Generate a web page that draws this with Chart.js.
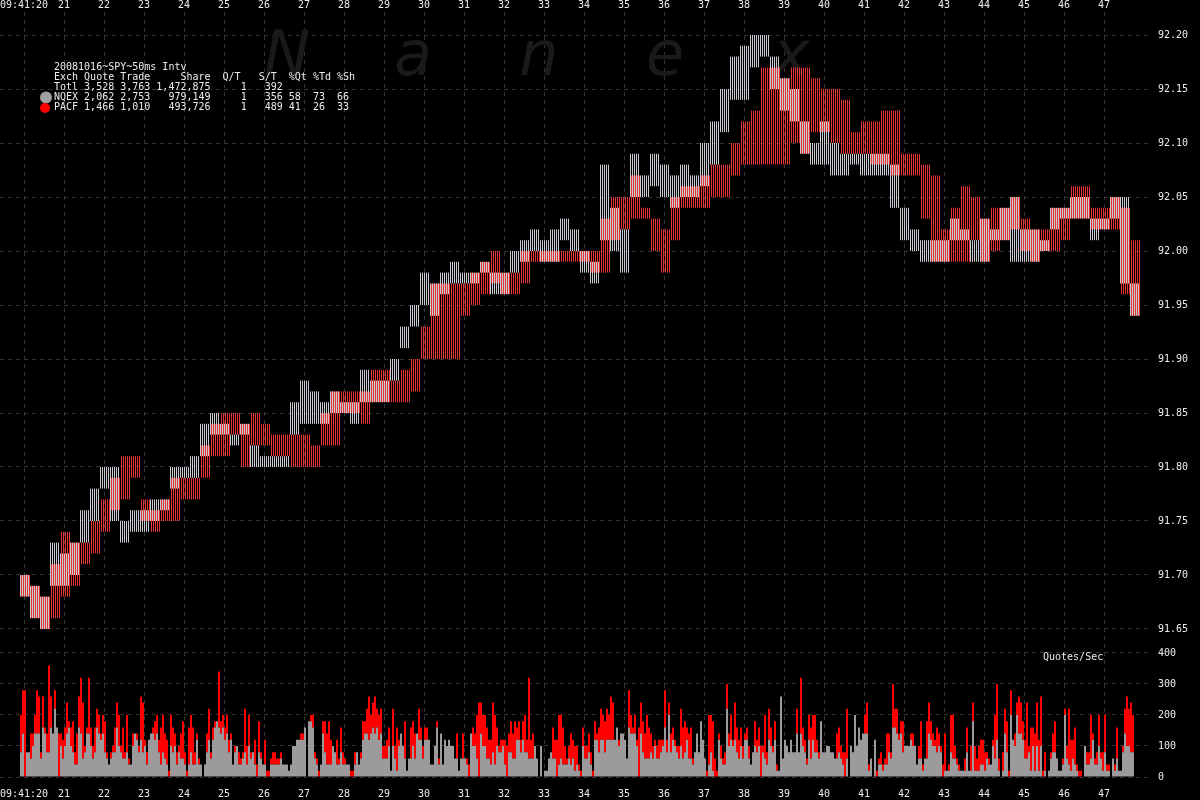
<!DOCTYPE html>
<html>
<head>
<meta charset="utf-8">
<title>SPY quotes 2008-10-16</title>
<script src="https://cdn.jsdelivr.net/npm/chart.js@4/dist/chart.umd.min.js"></script>
<style>
  html, body { margin: 0; padding: 0; background: #000; overflow: hidden; }
  canvas { display: block; }
</style>
</head>
<body>
<canvas id="chart" width="1200" height="800"></canvas>
<script>
"use strict";

// x axis: seconds after 09:41:00
const secondTicks = [20, 21, 22, 23, 24, 25, 26, 27, 28, 29, 30, 31, 32, 33, 34, 35, 36, 37, 38, 39, 40, 41, 42, 43, 44, 45, 46, 47];
const priceTicks = [91.65, 91.70, 91.75, 91.80, 91.85, 91.90, 91.95, 92.00, 92.05, 92.10, 92.15, 92.20];
const rateTicks = [0, 100, 200, 300, 400];

// price bins: quarter second each, starting 09:41:19.9
const priceStart = 19.9;
const priceStep = 0.25;
const nqexLow = [91.68, 91.66, 91.65, 91.69, 91.69, 91.70, 91.73, 91.75, 91.78, 91.75,
  91.73, 91.74, 91.74, 91.75, 91.76, 91.78, 91.79, 91.79, 91.81, 91.83,
  91.83, 91.82, 91.83, 91.80, 91.80, 91.80, 91.80, 91.83, 91.84, 91.84,
  91.84, 91.85, 91.85, 91.84, 91.86, 91.86, 91.86, 91.88, 91.91, 91.93,
  91.95, 91.94, 91.96, 91.97, 91.97, 91.97, 91.98, 91.96, 91.96, 91.98,
  91.99, 92.00, 91.99, 91.99, 92.01, 92.00, 91.98, 91.97, 92.01, 92.00,
  91.98, 92.05, 92.05, 92.06, 92.05, 92.04, 92.05, 92.05, 92.06, 92.08,
  92.11, 92.14, 92.14, 92.17, 92.18, 92.15, 92.13, 92.12, 92.09, 92.08,
  92.08, 92.07, 92.07, 92.08, 92.07, 92.07, 92.07, 92.04, 92.01, 92.00,
  91.99, 91.99, 91.99, 92.01, 92.01, 91.99, 91.99, 92.01, 92.01, 91.99,
  91.99, 91.99, 92.00, 92.02, 92.03, 92.03, 92.03, 92.01, 92.02, 92.03,
  91.97, 91.94];
const nqexHigh = [91.70, 91.69, 91.68, 91.73, 91.72, 91.73, 91.76, 91.78, 91.80, 91.80,
  91.75, 91.76, 91.76, 91.77, 91.77, 91.80, 91.80, 91.81, 91.84, 91.85,
  91.84, 91.83, 91.84, 91.82, 91.81, 91.81, 91.81, 91.86, 91.88, 91.87,
  91.86, 91.87, 91.86, 91.86, 91.89, 91.88, 91.88, 91.90, 91.93, 91.95,
  91.98, 91.97, 91.98, 91.99, 91.98, 91.98, 91.99, 91.98, 91.98, 92.00,
  92.01, 92.02, 92.01, 92.02, 92.03, 92.02, 92.00, 91.99, 92.08, 92.04,
  92.02, 92.09, 92.07, 92.09, 92.08, 92.07, 92.08, 92.07, 92.10, 92.12,
  92.15, 92.18, 92.19, 92.20, 92.20, 92.18, 92.16, 92.15, 92.12, 92.10,
  92.12, 92.10, 92.09, 92.09, 92.09, 92.09, 92.09, 92.08, 92.04, 92.02,
  92.01, 92.01, 92.01, 92.03, 92.02, 92.01, 92.03, 92.02, 92.04, 92.05,
  92.02, 92.02, 92.01, 92.04, 92.04, 92.05, 92.05, 92.03, 92.03, 92.05,
  92.05, 91.97];
const pacfLow = [91.68, 91.66, 91.65, 91.66, 91.68, 91.69, 91.71, 91.72, 91.74, 91.76,
  91.77, 91.79, 91.75, 91.74, 91.75, 91.75, 91.77, 91.77, 91.79, 91.81,
  91.81, 91.83, 91.80, 91.82, 91.82, 91.81, 91.81, 91.80, 91.80, 91.80,
  91.82, 91.82, 91.85, 91.85, 91.84, 91.86, 91.86, 91.86, 91.86, 91.87,
  91.90, 91.90, 91.90, 91.90, 91.94, 91.95, 91.96, 91.97, 91.96, 91.96,
  91.97, 91.99, 91.99, 91.99, 91.99, 91.99, 91.99, 91.98, 91.98, 92.01,
  92.02, 92.03, 92.03, 92.00, 91.98, 92.01, 92.04, 92.04, 92.04, 92.05,
  92.05, 92.07, 92.08, 92.08, 92.08, 92.08, 92.08, 92.10, 92.09, 92.11,
  92.11, 92.10, 92.09, 92.09, 92.09, 92.08, 92.08, 92.07, 92.07, 92.07,
  92.03, 91.99, 91.99, 91.99, 91.99, 92.01, 91.99, 92.00, 92.01, 92.02,
  92.00, 91.99, 92.00, 92.00, 92.01, 92.03, 92.03, 92.02, 92.02, 92.02,
  91.96, 91.94];
const pacfHigh = [91.70, 91.69, 91.68, 91.71, 91.74, 91.73, 91.73, 91.75, 91.77, 91.79,
  91.81, 91.81, 91.77, 91.76, 91.77, 91.79, 91.79, 91.79, 91.82, 91.84,
  91.85, 91.85, 91.84, 91.85, 91.84, 91.83, 91.83, 91.83, 91.83, 91.82,
  91.85, 91.87, 91.87, 91.87, 91.87, 91.89, 91.89, 91.88, 91.89, 91.90,
  91.93, 91.97, 91.97, 91.97, 91.97, 91.98, 91.99, 92.00, 91.98, 91.98,
  92.00, 92.00, 92.00, 92.00, 92.00, 92.00, 92.00, 92.00, 92.03, 92.05,
  92.05, 92.07, 92.04, 92.03, 92.02, 92.05, 92.06, 92.06, 92.07, 92.08,
  92.08, 92.10, 92.12, 92.13, 92.17, 92.17, 92.16, 92.17, 92.17, 92.16,
  92.15, 92.15, 92.14, 92.11, 92.12, 92.12, 92.13, 92.13, 92.09, 92.09,
  92.08, 92.07, 92.02, 92.04, 92.06, 92.05, 92.03, 92.04, 92.04, 92.05,
  92.03, 92.02, 92.02, 92.04, 92.04, 92.06, 92.06, 92.04, 92.04, 92.05,
  92.04, 92.01];

// quote rate bins: 50 ms each, quotes/sec
const rateStart = 19.9;
const rateStep = 0.05;
const nqexRate = [
  80,140,0,80,80,60,100,140,140,140, 60,160,140,80,80,160,140,220,160,0,
  100,60,100,140,160,100,80,40,40,160, 140,60,80,140,140,100,60,80,160,140,
  120,140,80,60,40,60,80,80,160,100, 80,60,60,80,40,40,100,140,120,80,
  120,80,100,40,120,140,140,120,140,80, 40,80,60,40,0,100,80,100,40,80,
  60,60,40,0,40,80,40,40,120,40, 40,0,40,80,120,60,120,160,180,160,
  140,160,120,140,80,120,40,80,100,40, 40,60,80,40,100,60,80,40,0,80,
  60,40,40,0,0,40,40,40,40,40, 60,40,40,40,20,40,100,100,120,120,
  120,120,160,0,180,180,160,60,40,0, 40,140,80,40,40,40,100,80,40,40,
  80,40,40,40,40,0,0,40,80,40, 60,120,140,140,120,140,160,140,160,120,
  140,60,60,60,100,20,100,60,20,100, 140,100,60,20,60,60,100,60,140,120,
  120,60,120,120,120,40,40,100,160,40, 140,40,120,100,120,100,100,60,60,20,
  60,60,60,40,0,140,100,100,60,0, 140,100,100,60,60,40,80,40,100,80,
  80,100,40,0,80,80,60,60,120,120, 80,120,80,80,60,60,60,100,60,0,
  100,0,20,20,60,80,60,60,0,40, 60,40,40,40,60,40,60,20,40,20,
  0,100,60,60,80,40,0,120,120,80, 120,120,80,120,120,120,120,120,160,100,
  140,140,120,60,160,140,140,140,100,0, 140,80,60,60,60,80,60,100,60,60,
  80,100,160,80,200,80,120,100,80,60, 100,60,80,120,60,60,40,80,140,80,
  180,120,60,0,40,80,20,0,0,120, 60,40,40,220,100,120,100,120,80,60,
  100,60,120,120,60,40,80,100,80,100, 0,80,60,40,120,100,80,120,20,20,
  260,60,120,100,80,120,80,80,140,80, 140,100,80,40,120,60,120,80,80,60,
  180,80,80,100,100,80,80,60,60,80, 60,40,0,60,0,100,80,200,100,160,
  120,140,140,140,20,60,0,120,0,40, 40,20,40,40,80,60,160,160,140,120,
  140,80,100,100,100,120,100,100,40,60, 60,20,60,60,140,120,100,100,80,100,
  80,0,20,20,20,80,60,60,40,20, 20,20,20,80,20,20,180,20,20,20,
  40,40,20,60,40,40,100,60,120,20, 0,20,140,80,0,200,120,100,200,140,
  140,120,60,60,80,20,100,20,100,20, 100,0,20,0,20,60,80,80,60,20,
  20,40,200,60,40,20,60,40,20,0, 0,0,100,40,40,60,120,40,40,100,
  60,20,80,20,20,0,60,20,60,20, 20,80,140,100,100,80,80];
const pacfRate = [
  120,140,280,0,0,80,40,60,140,120, 20,100,20,60,280,100,0,60,0,140,
  40,60,60,100,20,60,100,40,100,100, 180,180,20,20,180,60,40,80,60,60,
  20,60,100,20,0,20,20,80,80,100, 20,100,20,120,20,0,40,0,20,20,
  140,160,20,40,0,0,20,60,60,40, 120,120,80,80,20,100,80,40,40,20,
  80,120,40,20,120,120,120,40,20,20, 0,0,0,60,100,20,40,20,0,180,
  40,40,40,60,40,20,0,20,0,40, 20,20,140,60,100,20,0,80,40,100,
  20,0,80,20,20,20,40,40,20,20, 20,0,0,0,0,0,0,0,0,0,
  20,20,0,0,0,20,40,20,20,20, 0,40,100,100,140,80,0,0,80,20,
  80,40,20,0,0,20,20,40,0,0, 20,60,40,80,140,60,80,120,60,80,
  80,40,40,60,60,0,120,40,140,20, 0,0,120,0,0,100,80,80,0,100,
  40,40,40,40,0,0,0,0,20,20, 0,0,0,0,0,0,0,0,80,0,
  0,80,0,20,40,0,60,40,140,240, 100,100,100,100,60,80,160,160,60,20,
  40,20,80,100,60,100,80,120,40,60, 40,60,120,40,260,60,80,0,0,0,
  0,0,0,0,0,0,100,60,120,160, 140,120,60,20,40,100,60,80,60,20,
  20,60,40,40,60,40,20,60,20,80, 100,80,100,100,80,140,120,0,0,20,
  0,0,0,0,120,60,20,60,20,160, 100,100,80,140,100,60,40,20,40,60,
  40,20,120,40,40,60,40,20,20,40, 120,100,100,40,80,100,20,0,0,0,
  0,0,0,20,160,120,160,60,20,20, 40,20,40,80,40,80,20,120,80,60,
  60,40,20,40,40,0,0,80,40,60, 100,20,140,40,100,60,20,60,20,0,
  0,0,0,0,0,0,0,0,80,0, 180,60,40,20,80,100,80,120,40,20,
  0,0,0,0,0,0,0,0,80,80, 40,40,80,160,0,0,0,0,0,0,
  0,0,60,100,20,0,0,0,20,20, 40,20,20,100,60,20,140,60,80,20,
  40,100,0,0,0,20,40,0,0,40, 120,20,0,120,100,60,40,20,80,40,
  20,40,120,0,20,120,140,40,20,20, 0,0,40,80,0,80,60,80,40,80,
  80,80,60,20,20,0,20,140,180,40, 0,60,80,100,20,80,0,40,40,120,
  100,60,60,180,20,140,60,120,140,100, 160,20,60,0,0,20,60,100,0,0,
  0,20,20,40,180,100,60,120,20,20, 20,0,0,40,40,140,20,20,40,100,
  20,60,120,20,20,0,0,20,100,0, 0,20,80,160,120,160,120];

// summary block, top left
const summaryTitle = "20081016~SPY~50ms Intv";
const summaryRows = [
  "Exch Quote Trade     Share  Q/T   S/T  %Qt %Td %Sh",
  "Totl 3,528 3,763 1,472,875     1   392",
  "NQEX 2,062 2,753   979,149     1   356 58  73  66",
  "PACF 1,466 1,010   493,726     1   489 41  26  33"
];
const watermark = ["N", "a", "n", "e", "x"];

const monoFont = { family: "'DejaVu Sans Mono', monospace", size: 10 };
const gridColor = "#343434";
const textColor = "#ececec";

const canvas = document.getElementById("chart");
const ctx = canvas.getContext("2d");

// 1px stripes every 2px, the two exchanges interleave
const stripes = (color, phase) => {
  const tile = document.createElement("canvas");
  tile.width = 2;
  tile.height = 1;
  const t = tile.getContext("2d");
  t.fillStyle = color;
  t.fillRect(phase, 0, 1, 1);
  return ctx.createPattern(tile, "repeat");
};

const binTime = (start, step, i) => start + step * (i + 0.5);
const nqexBars = nqexLow.map((lo, k) => ({ x: binTime(priceStart, priceStep, k), y: [lo, nqexHigh[k]] }));
const pacfBars = pacfLow.map((lo, k) => ({ x: binTime(priceStart, priceStep, k), y: [lo, pacfHigh[k]] }));
const nqexRateBars = nqexRate.map((v, i) => ({ x: binTime(rateStart, rateStep, i), y: v }));
const pacfRateBars = pacfRate.map((v, i) => ({ x: binTime(rateStart, rateStep, i), y: v }));

const overlay = {
  id: "overlay",
  afterLayout(chart) {
    // the rate axis shares the price axis column; widen its label box so labels are not clipped
    const s = chart.scales.yv;
    s.right = s.left + 50;
    s.width = 50;
  },
  beforeDatasetsDraw(chart) {
    const c = chart.ctx;
    c.save();
    c.fillStyle = "#1a1a1a";
    c.font = "italic 62px 'DejaVu Sans'";
    c.textAlign = "center";
    c.textBaseline = "alphabetic";
    watermark.forEach((ch, i) => c.fillText(ch, 287 + i * 126, 75));
    c.restore();
  },
  afterDraw(chart) {
    const c = chart.ctx;
    c.save();
    c.font = "10px 'DejaVu Sans Mono'";
    c.textAlign = "left";
    c.textBaseline = "middle";
    c.fillStyle = textColor;
    c.fillText(summaryTitle, 54, 67);
    summaryRows.forEach((row, i) => c.fillText(row, 54, 77.5 + i * 10.1));
    c.fillText("Quotes/Sec", 1043, 657);
    // exchange markers
    c.fillStyle = "#a0a0a0";
    c.beginPath(); c.arc(46, 97.5, 6, 0, Math.PI * 2); c.fill();
    c.fillStyle = "#ff0000";
    c.beginPath(); c.arc(45, 108, 5, 0, Math.PI * 2); c.fill();
    c.restore();
  }
};

const xTicks = (padding) => ({
  color: textColor,
  font: monoFont,
  padding: padding,
  autoSkip: false,
  maxRotation: 0,
  callback: (v) => (v === 20 ? "09:41:20" : String(v))
});

new Chart(ctx, {
  type: "bar",
  data: {
    datasets: [
      { label: "NQEX", data: nqexBars, xAxisID: "x", yAxisID: "y", backgroundColor: stripes("#c8ccd2", 0),
        barThickness: 10, grouped: false, borderWidth: 0, inflateAmount: 0 },
      { label: "PACF", data: pacfBars, xAxisID: "x", yAxisID: "y", backgroundColor: stripes("#e43434", 1),
        barThickness: 10, grouped: false, borderWidth: 0, inflateAmount: 0 },
      { label: "NQEX Quotes/Sec", data: nqexRateBars, xAxisID: "x", yAxisID: "yv", stack: "rate",
        backgroundColor: "#9c9a9c", barThickness: 2, grouped: false, borderWidth: 0, inflateAmount: 0 },
      { label: "PACF Quotes/Sec", data: pacfRateBars, xAxisID: "x", yAxisID: "yv", stack: "rate",
        backgroundColor: "#ff0000", barThickness: 2, grouped: false, borderWidth: 0, inflateAmount: 0 }
    ]
  },
  options: {
    responsive: false,
    animation: false,
    events: [],
    layout: { padding: 0 },
    plugins: { legend: { display: false }, tooltip: { enabled: false } },
    scales: {
      x: {
        type: "linear", position: "bottom", min: 19.4, max: 48.15, offset: false,
        afterBuildTicks: (s) => { s.ticks = secondTicks.map((v) => ({ value: v })); },
        afterFit: (s) => { s.height = 23; s.paddingLeft = 0; s.paddingRight = 0; },
        ticks: xTicks(11),
        grid: { color: gridColor, drawTicks: false, offset: false },
        border: { display: false, dash: [4, 4] }
      },
      xt: {
        type: "linear", position: "top", min: 19.4, max: 48.15, offset: false,
        afterBuildTicks: (s) => { s.ticks = secondTicks.map((v) => ({ value: v })); },
        afterFit: (s) => { s.height = 12; s.paddingLeft = 0; s.paddingRight = 0; },
        ticks: xTicks(1),
        grid: { display: false, drawTicks: false, offset: false },
        border: { display: false }
      },
      y: {
        type: "linear", position: "right", weight: 1, min: 91.51296, max: 92.2213, stacked: false,
        afterBuildTicks: (s) => { s.ticks = priceTicks.map((v) => ({ value: v })); },
        afterFit: (s) => { s.width = 50; s.paddingTop = 0; s.paddingBottom = 0; },
        ticks: { color: textColor, font: monoFont, padding: 8, callback: (v) => v.toFixed(2) },
        grid: { color: gridColor, drawTicks: false },
        border: { display: false, dash: [4, 4] }
      },
      yv: {
        type: "linear", position: "right", weight: 0, min: 0, max: 2467.7, stacked: true,
        afterBuildTicks: (s) => { s.ticks = rateTicks.map((v) => ({ value: v })); },
        afterFit: (s) => { s.width = 0; s.paddingTop = 0; s.paddingBottom = 0; },
        ticks: { color: textColor, font: monoFont, padding: 8, callback: (v) => String(v) },
        grid: { color: gridColor, drawTicks: false },
        border: { display: false, dash: [4, 4] }
      }
    }
  },
  plugins: [overlay]
});
</script>
</body>
</html>
